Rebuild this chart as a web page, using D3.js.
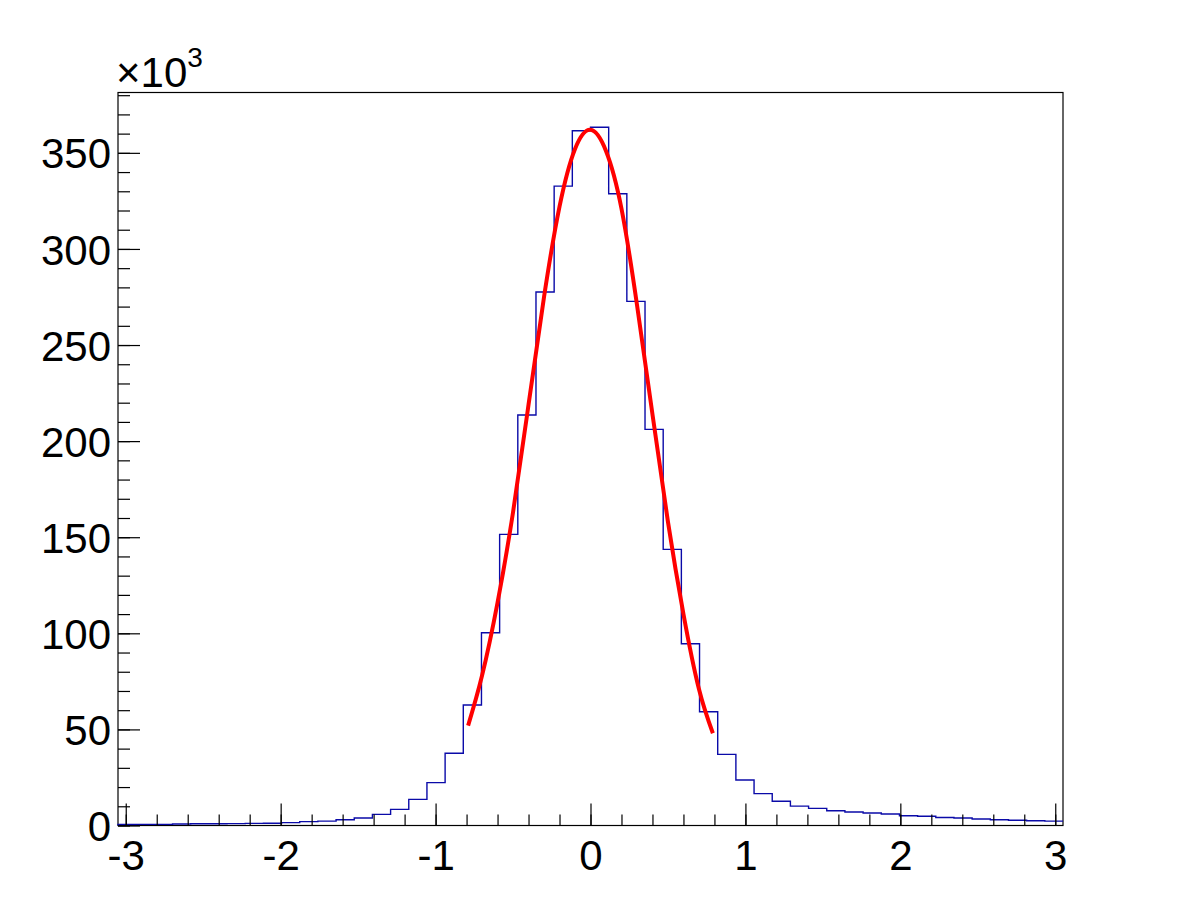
<!DOCTYPE html>
<html>
<head>
<meta charset="utf-8">
<script src="https://cdn.jsdelivr.net/npm/d3@7"></script>
<style>
  body { margin: 0; background: #fff; }
  svg { display: block; font-family: "Liberation Sans", Arial, Helvetica, sans-serif; }
</style>
</head>
<body>
<div id="chart"></div>
<script>
// histogram: 52 bins between xLow and xHigh, counts in units of 10^3
const xLow = -3.05, xHigh = 3.05;
const counts = [
  0.5, 0.6, 0.6, 0.8, 0.9, 0.9, 1.0, 1.1, 1.2, 1.5, 2.0, 2.3, 3.0, 3.9, 5.8, 8.4, 13.6,
  22.3, 37.6, 62.7, 100.3, 151.5, 213.6, 277.6, 332.7, 361.5,
  363.3, 328.7, 272.7, 206.1, 143.7, 94.6, 59.2, 37.0, 23.7, 16.6, 12.6,
  10.1, 8.9, 7.7, 7.0, 6.5, 6.0, 5.1, 4.8, 4.2, 3.9, 3.4, 3.0, 2.7, 2.5, 2.3
];

// fitted curve, points
const fitX = [-0.79, -0.70, -0.60, -0.50, -0.40, -0.30, -0.20, -0.10, 0.0, 0.10, 0.20, 0.30, 0.40, 0.50, 0.60, 0.70, 0.79];
const fitY = [52, 78, 116, 163, 219, 275, 322, 352, 362, 351, 321, 271, 214, 158, 110, 71, 48];

const xMajor = [-3, -2, -1, 0, 1, 2, 3];
const xMinor = d3.range(-30, 31, 2).map(d => d / 10);
const yMajor = [0, 50, 100, 150, 200, 250, 300, 350];
const yMinor = d3.range(0, 381, 10);
const yMax = 381.4;

const W = 1182, H = 919;
const frame = {left: 118, right: 1063, top: 92.5, bottom: 825.5};
const labelSize = 42;

const svg = d3.select("#chart").append("svg")
    .attr("width", W)
    .attr("height", H);

const x = d3.scaleLinear().domain([xLow, xHigh]).range([frame.left, frame.right]);
const y = d3.scaleLinear().domain([0, yMax]).range([frame.bottom, frame.top]);

// frame
svg.append("rect")
  .attr("x", frame.left)
  .attr("y", frame.top)
  .attr("width", frame.right - frame.left)
  .attr("height", frame.bottom - frame.top)
  .attr("fill", "none")
  .attr("stroke", "#000")
  .attr("stroke-width", 1.2);

// histogram outline
const binW = (xHigh - xLow) / counts.length;
const steps = [[xLow, 0]];
counts.forEach((c, i) => {
  steps.push([xLow + i * binW, c]);
  steps.push([xLow + (i + 1) * binW, c]);
});

svg.append("path")
  .datum(steps)
  .attr("fill", "none")
  .attr("stroke", "#0a0aa8")
  .attr("stroke-width", 1.4)
  .attr("d", d3.line().x(d => x(d[0])).y(d => y(d[1])));

// fit
const fitPts = fitX.map((v, i) => [v, fitY[i]]);
svg.append("path")
  .datum(fitPts)
  .attr("fill", "none")
  .attr("stroke", "#ff0000")
  .attr("stroke-width", 4)
  .attr("d", d3.line().curve(d3.curveNatural).x(d => x(d[0])).y(d => y(d[1])));

// x axis
svg.append("g")
    .attr("transform", `translate(0, ${frame.bottom})`)
    .call(d3.axisBottom(x).tickValues(xMinor).tickSizeInner(-11).tickSizeOuter(0).tickFormat(""))
    .call(g => g.select(".domain").remove());

svg.append("g")
    .attr("transform", `translate(0, ${frame.bottom})`)
    .call(d3.axisBottom(x).tickValues(xMajor).tickSizeInner(-22).tickSizeOuter(0).tickPadding(0).tickFormat(d => String(d)))
    .call(g => g.select(".domain").remove())
    .selectAll("text")
    .attr("font-size", labelSize)
    .attr("font-family", "Liberation Sans, Arial, sans-serif")
    .attr("dy", null)
    .attr("y", 44);

// y axis
svg.append("g")
    .attr("transform", `translate(${frame.left}, 0)`)
    .call(d3.axisLeft(y).tickValues(yMinor).tickSizeInner(-12).tickSizeOuter(0).tickFormat(""))
    .call(g => g.select(".domain").remove());

svg.append("g")
    .attr("transform", `translate(${frame.left}, 0)`)
    .call(d3.axisLeft(y).tickValues(yMajor).tickSizeInner(-22).tickSizeOuter(0).tickPadding(7).tickFormat(d => String(d)))
    .call(g => g.select(".domain").remove())
    .selectAll("text")
    .attr("font-size", labelSize)
    .attr("font-family", "Liberation Sans, Arial, sans-serif")
    .attr("dy", "0.36em");

svg.selectAll(".tick line").attr("stroke", "#000").attr("stroke-width", 1.2);

// exponent label
const expo = svg.append("text")
  .attr("x", 116)
  .attr("y", 87)
  .attr("font-size", labelSize)
  .attr("fill", "#000");
expo.append("tspan").text("\u00d710");
expo.append("tspan").attr("font-size", 28).attr("dy", -20).text("3");
</script>
</body>
</html>
